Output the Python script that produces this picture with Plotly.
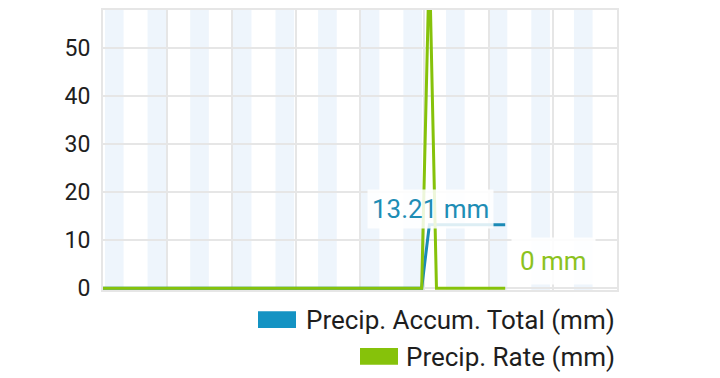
import plotly.graph_objects as go

# ---- data (x in hours from start of window) ----
series_names = ["Precip. Accum. Total (mm)", "Precip. Rate (mm)"]
accum_x = [0.0, 4.96, 5.08, 6.26]
accum_y = [0.0, 0.0, 13.21, 13.21]
rate_x = [0.0, 4.96, 5.08, 5.19, 6.26]
rate_y = [0.0, 0.0, 68.6, 0.0, 0.0]
last_labels = ["13.21 mm", "0 mm"]
y_ticks = [0, 10, 20, 30, 40, 50]
band_count = 12

BLUE = "#1b8ab6"
BLUE_SW = "#1493c3"
GREEN = "#86c20a"
FONT = "Roboto"

fig = go.Figure()
fig.add_trace(go.Scatter(x=accum_x, y=accum_y, mode="lines",
                         line=dict(color=BLUE, width=3), name=series_names[0],
                         showlegend=False))
fig.add_trace(go.Scatter(x=rate_x, y=rate_y, mode="lines",
                         line=dict(color=GREEN, width=3), name=series_names[1],
                         showlegend=False))

shapes = []
for i in range(band_count):
    x0 = 0.03 + i * 0.6636
    shapes.append(dict(type="rect", xref="x", yref="paper", x0=x0, x1=x0 + 0.29,
                       y0=0, y1=1, fillcolor="#eef5fc", line=dict(width=0),
                       layer="below"))

# manual legend (right aligned)
legend_rows = [(series_names[0], BLUE_SW, 320.5, 258), (series_names[1], GREEN, 357.5, 360)]
annotations = []
W, H = 720, 378
for name, col, yc, sx in legend_rows:
    shapes.append(dict(type="rect", xref="paper", yref="paper",
                       x0=(sx - 103) / 514, x1=(sx + 38 - 103) / 514,
                       y0=(290.5 - (yc + 8.5)) / 283, y1=(290.5 - (yc - 8.5)) / 283,
                       fillcolor=col, line=dict(width=0)))
    annotations.append(dict(xref="paper", yref="paper", x=(617 - 103) / 514,
                            y=(290.5 - yc - 0.5) / 283, text=name, showarrow=False,
                            xanchor="right", yanchor="middle",
                            font=dict(family=FONT, size=26, color="#1e1e1e")))

annotations.append(dict(x=accum_x[-1], y=accum_y[-1], text=last_labels[0],
                        showarrow=False, xanchor="right", yanchor="middle",
                        xshift=-11, yshift=16, bgcolor="rgba(255,255,255,0.85)",
                        borderpad=4, font=dict(family=FONT, size=26, color="#1e8db5")))
annotations.append(dict(x=rate_x[-1], y=rate_y[-1], text=last_labels[1],
                        showarrow=False, xanchor="left", yanchor="middle",
                        xshift=6, yshift=27, bgcolor="rgba(255,255,255,0.85)",
                        borderpad=8, font=dict(family=FONT, size=26, color="#8cc21e")))

fig.update_layout(
    width=W, height=H,
    margin=dict(l=103, r=103, t=7.5, b=87.5, pad=0),
    plot_bgcolor="white", paper_bgcolor="white",
    shapes=shapes, annotations=annotations,
    xaxis=dict(range=[0, 8], dtick=1, tick0=0, showticklabels=False, ticks="",
               showgrid=True, gridcolor="#e6e6e6", gridwidth=2, zeroline=False,
               showline=True, linecolor="#e6e6e6", linewidth=2, mirror=True),
    yaxis=dict(range=[-0.37, 57.9], tickvals=y_ticks, showgrid=True,
               gridcolor="#e6e6e6", gridwidth=2, zeroline=False,
               showline=True, linecolor="#e6e6e6", linewidth=2, mirror=True,
               ticks="", ticklabelstandoff=6,
               tickfont=dict(family=FONT, size=23, color="#1e1e1e")),
    showlegend=False,
)

fig.write_html("out.html")
